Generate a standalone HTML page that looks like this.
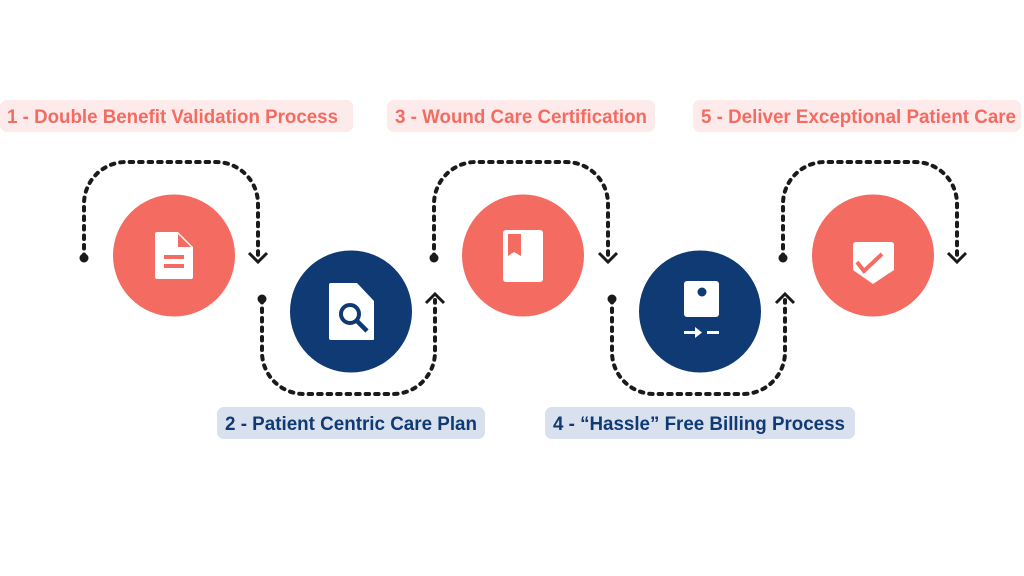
<!DOCTYPE html>
<html><head><meta charset="utf-8"><style>html,body{margin:0;padding:0;background:#fff;width:1024px;height:576px;overflow:hidden}</style></head>
<body>
<svg width="1024" height="576" viewBox="0 0 1024 576" xmlns="http://www.w3.org/2000/svg">
<defs>
<g id="top">
<path d="M84 258 V204 A42 42 0 0 1 126 162 H216 A42 42 0 0 1 258 204 V258" fill="none" stroke="#1a1a1a" stroke-width="4" stroke-dasharray="3.5 6" stroke-linecap="round"/>
<circle cx="84" cy="258" r="4.5" fill="#1a1a1a"/>
<path d="M249 253 L258 262 L267 253" fill="none" stroke="#1a1a1a" stroke-width="3"/>
</g>
<g id="bot">
<path d="M262 299 V352 A42 42 0 0 0 304 394 H393 A42 42 0 0 0 435 352 V300" fill="none" stroke="#1a1a1a" stroke-width="4" stroke-dasharray="3.5 6" stroke-linecap="round"/>
<circle cx="262" cy="299" r="4.5" fill="#1a1a1a"/>
<path d="M426 303 L435 294 L444 303" fill="none" stroke="#1a1a1a" stroke-width="3"/>
</g>
</defs>
<use href="#top"/>
<use href="#top" x="350"/>
<use href="#top" x="699"/>
<use href="#bot"/>
<use href="#bot" x="350"/>

<circle cx="174" cy="255.5" r="61" fill="#f46b61"/>
<circle cx="351" cy="311.5" r="61" fill="#0f3a74"/>
<circle cx="523" cy="255.5" r="61" fill="#f46b61"/>
<circle cx="700" cy="311.5" r="61" fill="#0f3a74"/>
<circle cx="873" cy="255.5" r="61" fill="#f46b61"/>

<path d="M157 232 H178 L193 247 V277 Q193 279 191 279 H157 Q155 279 155 277 V234 Q155 232 157 232Z" fill="#fff"/>
<path d="M178 234 L191 247 H178Z" fill="#f46b61"/>
<rect x="164" y="255" width="20" height="4" fill="#f46b61"/>
<rect x="164" y="264" width="20" height="4" fill="#f46b61"/>
<path d="M331 283 H357 L374 301 V339 Q374 340 373 340 H331 Q329 340 329 338 V285 Q329 283 331 283Z" fill="#fff"/>
<circle cx="350" cy="314" r="9" fill="none" stroke="#0f3a74" stroke-width="4"/>
<path d="M356 320 L367 331" stroke="#0f3a74" stroke-width="4.5"/>
<rect x="503" y="230" width="40" height="52" rx="3" fill="#fff"/>
<path d="M508 234 V256 L514 252 L521 256 V234Z" fill="#f46b61"/>
<rect x="684" y="281" width="35" height="36" rx="3" fill="#fff"/>
<circle cx="702" cy="292" r="4.5" fill="#0f3a74"/>
<rect x="684" y="331" width="14" height="3" fill="#fff"/>
<path d="M695 327 L702 332.5 L695 338Z" fill="#fff"/>
<rect x="707" y="331" width="12" height="3" fill="#fff"/>
<path d="M853 245 Q853 242 856 242 H891 Q894 242 894 245 V270 L873 284 L853 270Z" fill="#fff"/>
<path d="M857 262 L864 271 L882 254" fill="none" stroke="#f46b61" stroke-width="4"/>

<g font-family="Liberation Sans, sans-serif" font-weight="bold" font-size="19">
<rect x="0" y="100" width="353" height="32" rx="7" fill="#fdeaea"/>
<text x="7" y="123" fill="#f46b61" textLength="331" lengthAdjust="spacingAndGlyphs">1 - Double Benefit Validation Process</text>
<rect x="387" y="100" width="268" height="32" rx="7" fill="#fdeaea"/>
<text x="395" y="123" fill="#f46b61" textLength="252" lengthAdjust="spacingAndGlyphs">3 - Wound Care Certification</text>
<rect x="693" y="100" width="328" height="32" rx="7" fill="#fdeaea"/>
<text x="701" y="123" fill="#f46b61" textLength="315" lengthAdjust="spacingAndGlyphs">5 - Deliver Exceptional Patient Care</text>
<rect x="217" y="407" width="268" height="32" rx="7" fill="#d9e1ee"/>
<text x="225" y="430" fill="#0f3a74" textLength="252" lengthAdjust="spacingAndGlyphs">2 - Patient Centric Care Plan</text>
<rect x="545" y="407" width="310" height="32" rx="7" fill="#d9e1ee"/>
<text x="553" y="430" fill="#0f3a74" textLength="292" lengthAdjust="spacingAndGlyphs">4 - “Hassle” Free Billing Process</text>
</g>
</svg>
</body></html>
